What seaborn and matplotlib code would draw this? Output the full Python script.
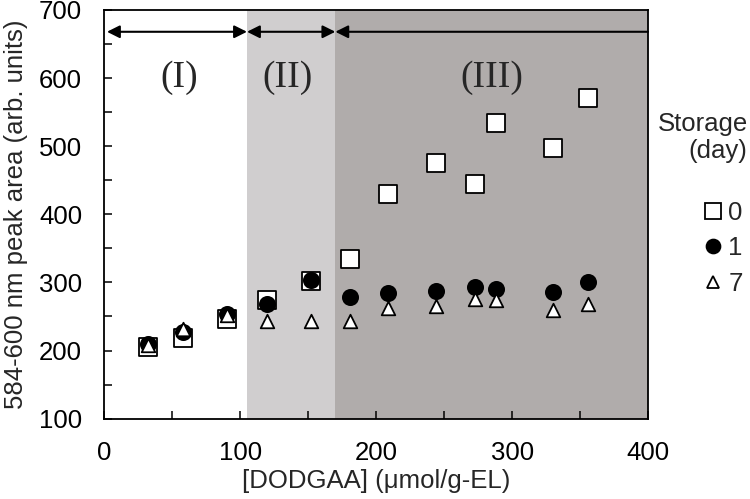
import numpy as np
import pandas as pd
import matplotlib
matplotlib.use("Agg")
import matplotlib.pyplot as plt
import seaborn as sns
from matplotlib.lines import Line2D

# data
conc = [32, 58, 90, 120, 152, 181, 209, 244, 273, 288, 330, 356]
day0 = [205, 218, 247, 274, 302, 334, 430, 476, 444, 534, 497, 571]
day1 = [210, 227, 253, 269, 304, 279, 284, 288, 293, 291, 286, 300]
day7 = [208, 232, 252, 244, 244, 244, 262, 265, 275, 274, 259, 269]

region_edges = [0, 105, 170, 400]
region_labels = ["(I)", "(II)", "(III)"]
region_label_x = [55, 135, 285]
region_colors = ["white", "#d0cecf", "#b0acab"]

xticks = list(range(0, 401, 50))
xticklabels = ["0", "", "100", "", "200", "", "300", "", "400"]
yticks = list(range(100, 701, 50))
yticklabels = ["100", "", "200", "", "300", "", "400", "", "500", "", "600", "", "700"]

df = pd.DataFrame({
    "conc": conc * 3,
    "area": day0 + day1 + day7,
    "day": ["0"] * len(conc) + ["1"] * len(conc) + ["7"] * len(conc),
})

sns.set_style("ticks")
plt.rcParams["font.family"] = ["Liberation Sans", "DejaVu Sans"]
fs = 18.5

fig = plt.figure(figsize=(7.5, 4.99), dpi=100)
ax = fig.add_axes([0.139, 0.161, 0.725, 0.819])

for i in range(3):
    ax.axvspan(region_edges[i], region_edges[i + 1], color=region_colors[i], lw=0, zorder=0)

styles = {
    "0": dict(marker="s", facecolor="white", s=150, zorder=3),
    "1": dict(marker="o", facecolor="black", s=120, zorder=4),
    "7": dict(marker="^", facecolor="white", s=95, zorder=5),
}
for day, st in styles.items():
    sub = df[df["day"] == day]
    sns.scatterplot(data=sub, x="conc", y="area", marker=st["marker"], color=st["facecolor"],
                    edgecolor="black", linewidth=1.3, s=st["s"], zorder=st["zorder"], ax=ax, legend=False)

# region arrows and labels
arrow_y = 668
for i in range(3):
    x0 = region_edges[i] + (2 if i == 0 else 0)
    style = "<|-|>" if i < 2 else "-|>"
    ax.annotate("", xy=(x0, arrow_y), xytext=(region_edges[i + 1], arrow_y),
                arrowprops=dict(arrowstyle=style, color="black", lw=1.5, mutation_scale=19,
                                shrinkA=0, shrinkB=0), zorder=6)
    ax.text(region_label_x[i], 600, region_labels[i], ha="center", va="center",
            fontsize=27, family=["Liberation Serif", "DejaVu Serif"])

ax.set_xlim(0, 400)
ax.set_ylim(100, 700)
ax.set_xticks(xticks)
ax.set_xticklabels(xticklabels)
ax.set_yticks(yticks)
ax.set_yticklabels(yticklabels)
ax.tick_params(direction="in", length=6, width=1.1, labelsize=fs, pad=16, colors="black")
for sp in ax.spines.values():
    sp.set_linewidth(1.3)
    sp.set_color("black")

ax.set_xlabel("[DODGAA] (μmol/g-EL)", fontsize=fs, labelpad=3)
ax.set_ylabel("584-600 nm peak area (arb. units)", fontsize=fs, labelpad=8)

# legend: title as separate text, entries as legend
fig.text(0.997, 0.7244, "Storage\n(day)", ha="right", va="center", multialignment="right",
         fontsize=fs, linespacing=1.15)
handles = [
    Line2D([], [], ls="none", marker="s", markerfacecolor="white", markeredgecolor="black", markersize=11, markeredgewidth=1.3),
    Line2D([], [], ls="none", marker="o", markerfacecolor="black", markeredgecolor="black", markersize=10, markeredgewidth=1.3),
    Line2D([], [], ls="none", marker="^", markerfacecolor="white", markeredgecolor="black", markersize=8.5, markeredgewidth=1.3),
]
fig.legend(handles, ["0", "1", "7"], loc="upper right", bbox_to_anchor=(0.99, 0.598),
           frameon=False, fontsize=fs, handletextpad=0.1, handlelength=1.0,
           labelspacing=0.45, borderpad=0, borderaxespad=0)

fig.savefig("out.png", dpi=100)
